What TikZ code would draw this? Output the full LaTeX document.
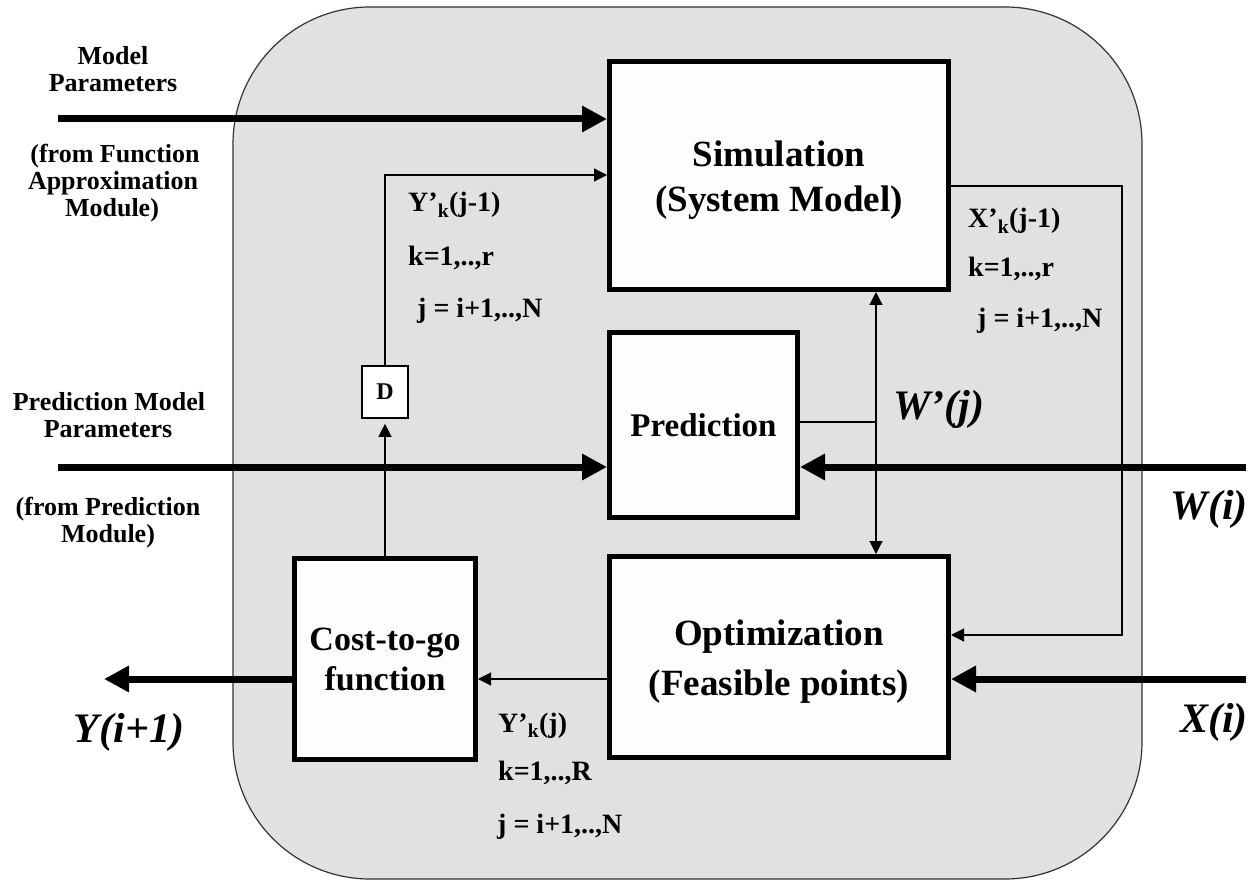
\documentclass[tikz,border=0pt]{standalone}
\usepackage{fontspec}
\setmainfont{Liberation Serif}
\usetikzlibrary{arrows.meta}
\definecolor{panelgray}{HTML}{E1E1E1}
\definecolor{boxfill}{HTML}{FDFDFD}
% extra room above the first line of a block caption
\newcommand\padtop[2]{\raisebox{0pt}[\dimexpr\height+#1\relax]{#2}}

\begin{document}
\begin{tikzpicture}[x=1pt,y=-1pt,
  panel/.style={draw=black!80, line width=1.2pt, fill=panelgray, rounded corners=137pt},
  block/.style={draw=black, line width=5pt, fill=boxfill, inner sep=0pt, align=center},
  dbox/.style={draw=black, line width=1.6pt, fill=white, inner sep=0pt,
    minimum width=46pt, minimum height=52pt, font=\fontsize{24}{26}\selectfont\bfseries},
  bigarrow/.style={line width=7pt, -{Triangle[length=25pt,width=25pt]}},
  smallarrow/.style={line width=1.2pt, -{Triangle[length=13pt,width=13pt]}},
  wire/.style={line width=1.2pt},
  sidelabel/.style={inner sep=0pt, font=\fontsize{26}{27}\selectfont\bfseries},
  sublabel/.style={inner sep=0pt, font=\fontsize{28}{30}\selectfont\bfseries},
  signal/.style={inner sep=0pt, font=\fontsize{42}{44}\selectfont\bfseries\itshape}
]
\useasboundingbox (0,0) rectangle (1260,882);

% enclosing module
\draw[panel] (233,7) rectangle (1142,879);

% blocks
\node[block, minimum width=339pt, minimum height=228pt,
      font=\fontsize{37}{45}\selectfont\bfseries] (sim) at (779,175.5)
      {\padtop{10pt}{Simulation}\\(System Model)};
\node[block, minimum width=188pt, minimum height=185pt,
      font=\fontsize{33}{40}\selectfont\bfseries] (pred) at (703.5,425) {Prediction};
\node[block, minimum width=339pt, minimum height=201pt,
      font=\fontsize{37}{50}\selectfont\bfseries] (opt) at (779,657)
      {\padtop{10pt}{Optimization}\\(Feasible points)};
\node[block, minimum width=181pt, minimum height=201pt,
      font=\fontsize{34}{40}\selectfont\bfseries] (cost) at (385,659) {Cost-to-go\\function};
\node[dbox] (delay) at (385,392) {D};

% routing points
\coordinate (mpin) at (58,119);
\coordinate (ppin) at (58,467);
\coordinate (win) at (1246,467);
\coordinate (xin) at (1246,679);
\coordinate (yout) at (104,679);
\coordinate (fbturn) at (385,175);
\coordinate (wtap) at (876,422);
\coordinate (xturn1) at (1122,186);
\coordinate (xturn2) at (1122,635);

% external signals
\draw[bigarrow] (mpin) -- (mpin -| sim.west);
\draw[bigarrow] (ppin) -- (ppin -| pred.west);
\draw[bigarrow] (win) -- (win -| pred.east);
\draw[bigarrow] (xin) -- (xin -| opt.east);
\draw[bigarrow] (yout -| cost.west) -- (yout);

% internal signals
\draw[smallarrow] (yout -| opt.west) -- (yout -| cost.east);
\draw[smallarrow, shorten >=5pt] (cost.north) -- (delay.south);
\draw[smallarrow] (delay.north) -- (fbturn) -- (fbturn -| sim.west);
\draw[wire] (wtap -| pred.east) -- (wtap);
\draw[smallarrow, {Triangle[length=13pt,width=13pt]}-{Triangle[length=13pt,width=13pt]}]
  (wtap |- sim.south) -- (wtap |- opt.north);
\draw[smallarrow] (xturn1 -| sim.east) -- (xturn1) -- (xturn2) -- (xturn2 -| opt.east);

% input descriptions
\node[sidelabel, anchor=base] (mp1) at (113,65) {Model};
\node[sidelabel, anchor=base] (mp2) at (113,92) {Parameters};
\node[sidelabel, anchor=base] (mp3) at (115,163) {(from Function};
\node[sidelabel, anchor=base] (mp4) at (113,190) {Approximation};
\node[sidelabel, anchor=base] (mp5) at (112,217) {Module)};
\node[sidelabel, anchor=base] (pp1) at (109,410) {Prediction Model};
\node[sidelabel, anchor=base] (pp2) at (108,437) {Parameters};
\node[sidelabel, anchor=base] (pp3) at (108,515) {(from Prediction};
\node[sidelabel, anchor=base] (pp4) at (108,542) {Module)};

% signal annotations
\node[sublabel, anchor=base west] (yl1) at (408,212) {Y’\textsubscript{k}(j-1)};
\node[sublabel, anchor=base west] (yl2) at (408,266) {k=1,..,r};
\node[sublabel, anchor=base west] (yl3) at (417,318) {j = i+1,..,N};
\node[sublabel, anchor=base west] (xl1) at (968,228) {X’\textsubscript{k}(j-1)};
\node[sublabel, anchor=base west] (xl2) at (968,277) {k=1,..,r};
\node[sublabel, anchor=base west] (xl3) at (977,327) {j = i+1,..,N};
\node[sublabel, anchor=base west] (ol1) at (498,732) {Y’\textsubscript{k}(j)};
\node[sublabel, anchor=base west] (ol2) at (498,780) {k=1,..,R};
\node[sublabel, anchor=base west] (ol3) at (497,833) {j = i+1,..,N};

\node[signal, anchor=base west] (wpj) at (893,419) {W’(j)};
\node[signal, anchor=base east] (wi) at (1248,519) {W(i)};
\node[signal, anchor=base east] (xi) at (1248,732) {X(i)};
\node[signal, anchor=base] (yi) at (129,742) {Y(i+1)};
\end{tikzpicture}
\end{document}
